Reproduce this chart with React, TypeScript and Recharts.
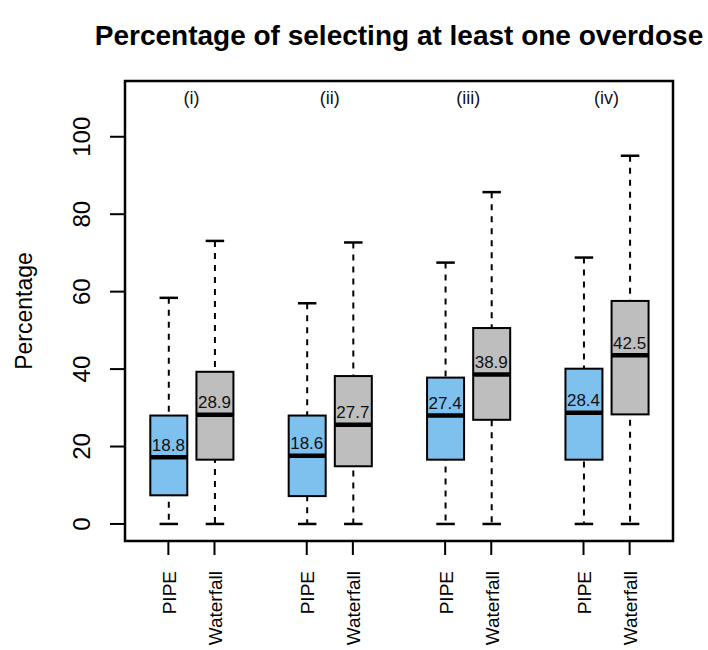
import React from "react";
import {
  ComposedChart,
  Bar,
  Scatter,
  XAxis,
  YAxis,
  ReferenceArea,
} from "recharts";

const groupLabels = ["(i)", "(ii)", "(iii)", "(iv)"];
const groupCenters = [1.5, 4.5, 7.5, 10.5];
const methods = ["PIPE", "Waterfall", "PIPE", "Waterfall", "PIPE", "Waterfall", "PIPE", "Waterfall"];
const positions = [1, 2, 4, 5, 7, 8, 10, 11];
const whiskerLow = [0, 0, 0, 0, 0, 0, 0, 0];
const lowerQuartile = [7.4, 16.6, 7.2, 14.9, 16.6, 26.9, 16.6, 28.3];
const medians = [17.2, 28.2, 17.6, 25.6, 28.0, 38.6, 28.7, 43.6];
const upperQuartile = [28.0, 39.3, 28.0, 38.2, 37.8, 50.6, 40.1, 57.6];
const whiskerHigh = [58.4, 73.1, 57.0, 72.7, 67.5, 85.7, 68.8, 95.1];
const means = [18.8, 28.9, 18.6, 27.7, 27.4, 38.9, 28.4, 42.5];
const yTicks = [0, 20, 40, 60, 80, 100];
const groupLabelY = 110;

const FONT = "'Liberation Sans', Arial, Helvetica, sans-serif";
const fills: Record<string, string> = { PIPE: "#7EC0EE", Waterfall: "#BEBEBE" };
const BOX_W = 37;
const X_DOMAIN: [number, number] = [0.06, 11.94];
const Y_DOMAIN: [number, number] = [-4.4, 114.4];

const rows = positions.map((pos, i) => ({
  pos,
  method: methods[i],
  whisker: [whiskerLow[i], whiskerHigh[i]],
  box: [lowerQuartile[i], upperQuartile[i]],
  median: medians[i],
  mean: means[i],
}));

const labelRows = groupLabels.map((text, i) => ({
  pos: groupCenters[i],
  labelY: groupLabelY,
  text,
}));

function WhiskerShape(props: any) {
  const { x, y, width, height } = props;
  const top = Math.min(y, y + height);
  const bottom = Math.max(y, y + height);
  const cx = x + width / 2;
  const half = width / 4;
  return (
    <g>
      <line x1={cx} x2={cx} y1={top} y2={bottom} stroke="#000" strokeWidth={2} strokeDasharray="6 6" />
      <line x1={cx - half} x2={cx + half} y1={top} y2={top} stroke="#000" strokeWidth={2.5} />
      <line x1={cx - half} x2={cx + half} y1={bottom} y2={bottom} stroke="#000" strokeWidth={2.5} />
    </g>
  );
}

function BoxShape(props: any) {
  const { x, y, width, height, payload } = props;
  const top = Math.min(y, y + height);
  return (
    <rect
      x={x}
      y={top}
      width={width}
      height={Math.abs(height)}
      fill={fills[payload.method]}
      stroke="#000"
      strokeWidth={2}
    />
  );
}

function MedianShape(props: any) {
  const { cx, cy, payload } = props;
  return (
    <g>
      <line x1={cx - BOX_W / 2} x2={cx + BOX_W / 2} y1={cy} y2={cy} stroke="#000" strokeWidth={4.5} />
      <text x={cx} y={cy - 6.5} textAnchor="middle" fontSize={17} fontFamily={FONT} fill="#111">
        {payload.mean.toFixed(1)}
      </text>
    </g>
  );
}

function GroupLabelShape(props: any) {
  const { cx, cy, payload } = props;
  return (
    <text x={cx} y={cy + 6} textAnchor="middle" fontSize={18} fontFamily={FONT} fill="#111">
      {payload.text}
    </text>
  );
}

function YTick(props: any) {
  const { x, y, payload } = props;
  return (
    <text
      transform={`translate(${x - 20},${y}) rotate(-90)`}
      textAnchor="middle"
      fontSize={24}
      fontFamily={FONT}
      fill="#000"
    >
      {payload.value}
    </text>
  );
}

function XTick(props: any) {
  const { x, y, payload } = props;
  const idx = positions.indexOf(payload.value);
  return (
    <text
      transform={`translate(${x + 7.5},${y + 16}) rotate(-90)`}
      textAnchor="end"
      fontSize={19}
      fontFamily={FONT}
      fill="#000"
    >
      {idx >= 0 ? methods[idx] : ""}
    </text>
  );
}

function YLabel(props: any) {
  const { viewBox } = props;
  const cy = viewBox.y + viewBox.height / 2;
  return (
    <text
      transform={`translate(${viewBox.x + 32},${cy}) rotate(-90)`}
      textAnchor="middle"
      fontSize={23}
      fontFamily={FONT}
      fill="#000"
    >
      Percentage
    </text>
  );
}

export default function App() {
  return (
    <div style={{ position: "absolute", left: 0, top: 0, width: 708, height: 650, background: "#fff" }}>
      <svg width={708} height={60} style={{ position: "absolute", left: 0, top: 0 }}>
        <text x={399} y={45} textAnchor="middle" fontSize={28} fontWeight="bold" fontFamily={FONT} fill="#000">
          Percentage of selecting at least one overdose
        </text>
      </svg>
      <div style={{ position: "absolute", left: 0, top: 0 }}>
        <ComposedChart
          width={708}
          height={650}
          data={rows}
          margin={{ top: 81, right: 35, bottom: 0, left: 0 }}
        >
          <XAxis
            xAxisId="main"
            type="number"
            dataKey="pos"
            domain={X_DOMAIN}
            ticks={positions}
            allowDataOverflow
            interval={0}
            height={109}
            axisLine={false}
            tickLine={{ stroke: "#000", strokeWidth: 2 }}
            tickSize={14}
            tickMargin={0}
            tick={<XTick />}
          />
          <XAxis
            xAxisId="xwhisk"
            type="number"
            dataKey="pos"
            domain={X_DOMAIN}
            ticks={positions}
            allowDataOverflow
            height={0}
            hide
          />
          <XAxis
            xAxisId="xlabels"
            type="number"
            dataKey="pos"
            domain={X_DOMAIN}
            allowDataOverflow
            height={0}
            hide
          />
          <YAxis
            type="number"
            domain={Y_DOMAIN}
            ticks={yTicks}
            allowDataOverflow
            width={125}
            axisLine={false}
            tickLine={{ stroke: "#000", strokeWidth: 2 }}
            tickSize={15}
            tickMargin={0}
            tick={<YTick />}
            label={<YLabel />}
          />
          <ReferenceArea
            xAxisId="main"
            x1={X_DOMAIN[0]}
            x2={X_DOMAIN[1]}
            y1={Y_DOMAIN[0]}
            y2={Y_DOMAIN[1]}
            fill="none"
            fillOpacity={0}
            stroke="#000"
            strokeWidth={2.5}
            ifOverflow="visible"
          />
          <Bar
            xAxisId="xwhisk"
            dataKey="whisker"
            barSize={BOX_W}
            shape={<WhiskerShape />}
            isAnimationActive={false}
          />
          <Bar
            xAxisId="main"
            dataKey="box"
            barSize={BOX_W}
            shape={<BoxShape />}
            isAnimationActive={false}
          />
          <Scatter
            xAxisId="main"
            dataKey="median"
            shape={<MedianShape />}
            isAnimationActive={false}
          />
          <Scatter
            xAxisId="xlabels"
            data={labelRows}
            dataKey="labelY"
            shape={<GroupLabelShape />}
            isAnimationActive={false}
          />
        </ComposedChart>
      </div>
    </div>
  );
}
